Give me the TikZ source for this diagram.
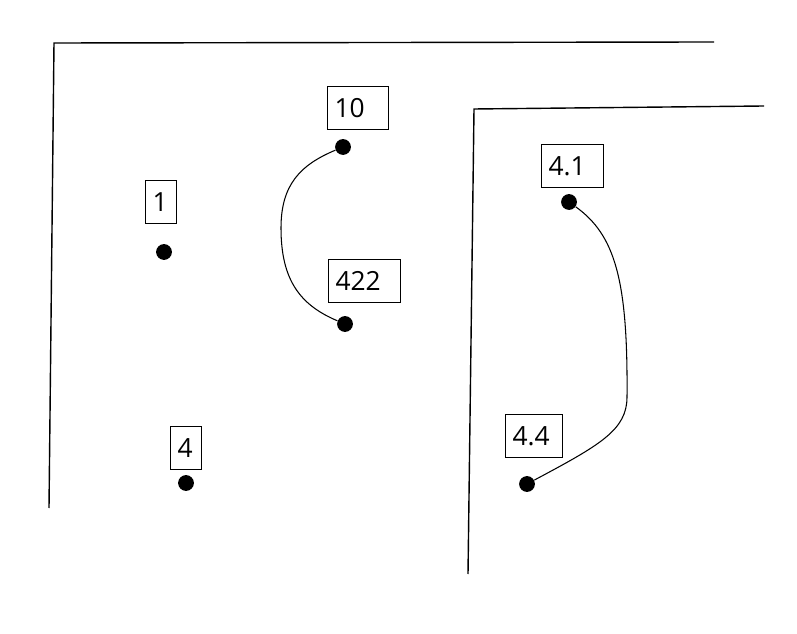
\documentclass[tikz,border=0pt]{standalone}
\usepackage{fontspec}
\setmainfont{Open Sans}
\usetikzlibrary{positioning,calc}

\begin{document}
\begin{tikzpicture}[x=0.02cm, y=-0.02cm]
	\useasboundingbox (0,0) rectangle (797,634);
	\begin{scope}
		\tikzstyle{dot}=[circle, fill=black, inner sep=0pt, minimum size=9pt]
		\tikzstyle{lbl}=[draw, line width=0.6pt, anchor=west, align=left, inner xsep=4pt, inner ysep=0pt, minimum height=24.5pt, font=\fontsize{15}{15}\selectfont]
		\tikzstyle{frame}=[line width=0.8pt]
		\tikzstyle{link}=[line width=0.6pt]

		% frames
		\draw [frame] (714,42) -- (54,43) -- (49,508);
		\draw [frame] (764,106) -- (474,109) -- (468,574);

		\node[dot] (d1) at (164,252) {};
		\node[dot] (d4) at (186,483) {};
		\node[dot] (d10) at (343,147) {};
		\node[dot] (d422) at (345,324) {};
		\node[dot] (d41) at (569,202) {};
		\node[dot] (d44) at (527,484) {};

		\node[lbl, text width=9.6pt] (l1) at (145,202) {1};
		\node[lbl, text width=9.6pt] (l4) at (170,448) {4};
		\node[lbl, text width=26.6pt] (l10) at (327,108) {10};
		\node[lbl, text width=32.8pt] (l422) at (328,281) {422};
		\node[lbl, text width=27.2pt] (l41) at (541,166) {4.1};
		\node[lbl, text width=24.3pt] (l44) at (505,436) {4.4};

		\coordinate (k1) at (281,228);
		\coordinate (k2) at (627,397);

		\draw [link] (d10) .. controls (300,165) and (281,185) .. (k1)
			.. controls (281,280) and (300,305) .. (d422);
		\draw [link] (d41) .. controls (615,235) and (628,280) .. (k2)
			.. controls (627,430) and (600,445) .. (d44);
	\end{scope}
\end{tikzpicture}
\end{document}
